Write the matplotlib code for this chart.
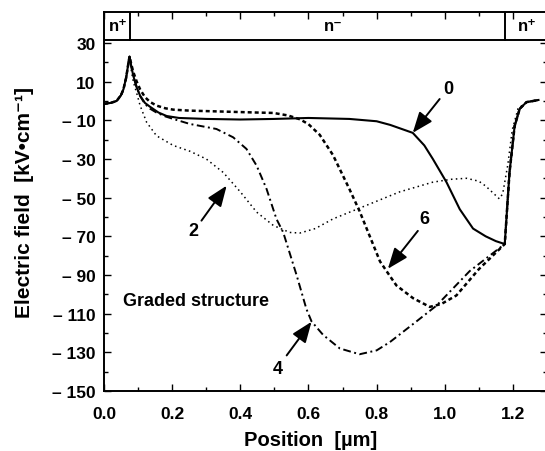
import matplotlib
matplotlib.use("Agg")
import matplotlib.pyplot as plt

plt.rcParams['font.family'] = ['Liberation Sans', 'DejaVu Sans']
plt.rcParams['font.weight'] = 'bold'

# ---- data ----
x_left = [0.0, 0.02, 0.037, 0.05, 0.057, 0.065, 0.072, 0.075]
y_left = [-1.5, -1.0, 0.0, 3.0, 6.0, 12.0, 20.0, 23.0]

x_right = [1.176, 1.19, 1.205, 1.22, 1.24, 1.26, 1.275]
y_right = [-74.0, -37.0, -13.0, -4.0, -0.6, 0.0, 0.5]

x0 = x_left + [0.08, 0.086, 0.096, 0.106, 0.12, 0.135, 0.16, 0.184, 0.22, 0.3, 0.4, 0.5,
               0.6, 0.72, 0.8, 0.84, 0.906, 0.94, 0.965, 1.005, 1.044, 1.083, 1.12, 1.15] + x_right
y0 = y_left + [18, 13, 7, 2.7, -1, -3, -6, -7.8, -8.8, -9.3, -9.6, -9.3,
               -8.8, -9.3, -10.5, -12.4, -16.5, -23, -30, -42, -56, -66, -70, -72.5] + y_right

x6 = x_left + [0.08, 0.086, 0.096, 0.106, 0.12, 0.135, 0.154, 0.18, 0.203, 0.25, 0.35, 0.45,
               0.497, 0.54, 0.575, 0.6, 0.633, 0.672, 0.72, 0.75, 0.78, 0.81, 0.833, 0.858,
               0.907, 0.956, 0.99, 1.034, 1.10] + x_right
y6 = y_left + [19, 15, 10, 6, 2, -0.5, -2.4, -3.8, -4.5, -5, -5.5, -6,
               -6.2, -7.5, -9.5, -12, -17.5, -28, -45.5, -57, -70, -83, -89, -95.4,
               -102, -106.5, -105, -100.6, -87] + y_right

x4 = x_left + [0.08, 0.086, 0.096, 0.106, 0.12, 0.135, 0.154, 0.18, 0.203, 0.252, 0.33, 0.379,
               0.418, 0.448, 0.477, 0.506, 0.526, 0.565, 0.594, 0.609, 0.643, 0.692, 0.75,
               0.80, 0.839, 0.917, 0.976, 1.073] + x_right
y4 = y_left + [18, 13, 7, 2.5, -1.5, -4, -6, -8, -9.3, -11.9, -14.5, -18.8,
               -24.8, -33.5, -45.5, -61, -68, -90, -107.6, -114, -121, -128, -131,
               -129, -124.7, -114, -105.8, -88] + y_right

x2 = x_left + [0.08, 0.086, 0.096, 0.106, 0.125, 0.154, 0.203, 0.252, 0.30, 0.35, 0.40, 0.448,
               0.497, 0.545, 0.575, 0.62, 0.672, 0.77, 0.868, 0.965, 1.02, 1.064, 1.10, 1.12,
               1.16, 1.17, 1.185, 1.198, 1.215, 1.24, 1.26, 1.275]
y2 = y_left + [16, 10, 4, -2.4, -11, -18, -23, -26, -30, -37, -47, -57.5,
               -64.4, -68, -68.3, -66, -61, -54, -47, -42, -40.5, -40, -41.5, -44,
               -50.6, -48, -33, -15, -4, -0.6, 0.0, 0.5]

yticks = [-150, -130, -110, -90, -70, -50, -30, -10, 10, 30]
ytick_labels = ['\u2013 150', '\u2013 130', '\u2013 110', '\u2013 90', '\u2013 70',
                '\u2013 50', '\u2013 30', '\u2013 10', '10', '30']
xticks = [0.0, 0.2, 0.4, 0.6, 0.8, 1.0, 1.2]
xtick_labels = ['0.0', '0.2', '0.4', '0.6', '0.8', '1.0', '1.2']

regions = ['n\u207a', 'n\u207b', 'n\u207a']
region_x = [0.041, 0.672, 1.243]
region_edges = [0.076, 1.176]

# ---- figure ----
W, H = 545, 452
fig = plt.figure(figsize=(W / 100, H / 100), dpi=100)
ax = fig.add_axes([104 / W, 60 / H, 443 / W, 379 / H])
ax.set_xlim(0, 1.3)
ax.set_ylim(-150, 46)

lw_ax = 1.4
for s in ax.spines.values():
    s.set_linewidth(lw_ax)

ax.plot(x0, y0, color='black', lw=1.5, ls='-')
ax.plot(x6, y6, color='black', lw=1.8, ls=(0, (1.6, 1.2)))
ax.plot(x4, y4, color='black', lw=1.4, ls=(0, (4, 1.8, 1, 1.8)))
ax.plot(x2, y2, color='black', lw=1.1, ls=(0, (1, 2.2)))

# band with doping regions
band_y = 31.5
ax.axhline(band_y, color='black', lw=lw_ax)
for e in region_edges:
    ax.plot([e, e], [band_y, 46], color='black', lw=lw_ax)
for t, xx in zip(regions, region_x):
    ax.text(xx, 38.8, t, ha='center', va='center', fontsize=12, fontweight='bold')

# ticks
ax.set_yticks(yticks)
ax.set_yticklabels(ytick_labels)
ax.set_yticks(list(range(-140, 21, 20)), minor=True)
ax.set_xticks(xticks)
ax.set_xticklabels(xtick_labels)
ax.set_xticks([0.1, 0.3, 0.5, 0.7, 0.9, 1.1], minor=True)
ax.tick_params(which='both', direction='in', top=True, right=True, width=1.0)
ax.tick_params(which='major', length=5)
ax.tick_params(which='minor', length=3)
ax.tick_params(axis='y', which='major', labelsize=12.5, pad=6)
ax.tick_params(axis='x', which='major', labelsize=12.5, pad=11)
for lab in ax.get_xticklabels() + ax.get_yticklabels():
    lab.set_fontweight('bold')

ax.set_xlabel('Position  [\u00b5m]', fontsize=14.5, fontweight='bold')
ax.xaxis.set_label_coords(0.466, -0.102)
ax.set_ylabel('Electric field  [kV\u2022cm\u207b\u00b9]', fontsize=15, fontweight='bold', labelpad=13)

# annotations
arrow_kw = dict(arrowstyle='-|>,head_length=0.9,head_width=0.35', color='black', lw=1.4,
                shrinkA=0, shrinkB=0, mutation_scale=14)
labels = ['0', '2', '6', '4']
label_pos = [(1.009, 6.2), (0.261, -67.2), (0.941, -61.0), (0.509, -138.5)]
arrow_start = [(0.985, 1.0), (0.286, -61.9), (0.921, -67.2), (0.536, -131.6)]
arrow_tip = [(0.906, -16.5), (0.36, -43.8), (0.833, -86.8), (0.609, -114.2)]
for lab, lp, st, tp in zip(labels, label_pos, arrow_start, arrow_tip):
    ax.text(lp[0], lp[1], lab, ha='center', va='center', fontsize=13, fontweight='bold')
    ax.annotate('', xy=tp, xytext=st, arrowprops=arrow_kw)

ax.text(0.056, -103.2, 'Graded structure', ha='left', va='center', fontsize=13, fontweight='bold')

fig.savefig('out.png', dpi=100)
